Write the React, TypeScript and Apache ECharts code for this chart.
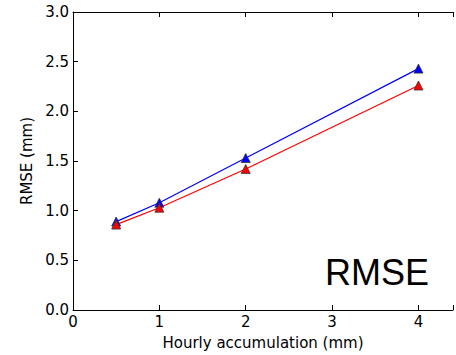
import React, { useEffect, useRef } from "react";
import * as echarts from "echarts";

const accumulations = [0.5, 1, 2, 4];
const rmseBlue = [0.89, 1.08, 1.53, 2.43];
const rmseRed = [0.86, 1.03, 1.42, 2.26];
const xTicks = [0, 1, 2, 3, 4];
const yTicks = ["0.0", "0.5", "1.0", "1.5", "2.0", "2.5", "3.0"];

export default function App() {
  const ref = useRef<HTMLDivElement>(null);
  useEffect(() => {
    const chart = echarts.init(ref.current!, null, { renderer: "svg" });
    const font = "DejaVu Sans";
    const tri = "path://M0,-10 L8.66,5 L-8.66,5 Z";
    const mk = (name: string, ys: number[], color: string) => ({
      name,
      type: "line",
      data: accumulations.map((x, i) => [x, ys[i]]),
      symbol: tri,
      symbolSize: 9,
      lineStyle: { color, width: 1.2 },
      itemStyle: { color, borderColor: "#333", borderWidth: 0.8 },
      z: 3,
    });
    chart.setOption({
      animation: false,
      backgroundColor: "#fff",
      textStyle: { fontFamily: font },
      grid: { left: 73, top: 12, width: 383, height: 302, containLabel: false },
      xAxis: [
        {
          type: "value",
          min: 0,
          max: 4.4,
          interval: 1,
          position: "bottom",
          name: "Hourly accumulation (mm)",
          nameLocation: "middle",
          nameGap: 25,
          nameTextStyle: { fontFamily: font, fontSize: 15, color: "#000" },
          axisLine: { show: true, onZero: false, lineStyle: { color: "#000", width: 1 } },
          axisTick: { show: true, inside: true, length: 5, lineStyle: { color: "#000" } },
          axisLabel: {
            color: "#000",
            fontFamily: font,
            fontSize: 15,
            margin: 4,
            formatter: (v: number) => (xTicks.includes(v) ? String(v) : ""),
          },
          splitLine: { show: false },
        },
        {
          type: "value",
          min: 0,
          max: 4.4,
          interval: 1,
          position: "top",
          axisLine: { show: true, onZero: false, lineStyle: { color: "#000", width: 1 } },
          axisTick: { show: true, inside: true, length: 5, lineStyle: { color: "#000" } },
          axisLabel: { show: false },
          splitLine: { show: false },
        },
      ],
      yAxis: {
        type: "value",
        min: 0,
        max: 3,
        interval: 0.5,
        name: "RMSE (mm)",
        nameLocation: "middle",
        nameGap: 34,
        nameTextStyle: { fontFamily: font, fontSize: 15, color: "#000" },
        axisLine: { show: true, onZero: false, lineStyle: { color: "#000", width: 1 } },
        axisTick: { show: true, inside: true, length: 5, lineStyle: { color: "#000" } },
        axisLabel: {
          color: "#000",
          fontFamily: font,
          fontSize: 15,
          margin: 4,
          formatter: (v: number) => yTicks[Math.round(v * 2)] ?? "",
        },
        splitLine: { show: false },
      },
      series: [mk("blue", rmseBlue, "#0000ff"), mk("red", rmseRed, "#ff0000")],
      graphic: [
        {
          type: "text",
          left: 325,
          top: 254,
          style: { text: "RMSE", fontFamily: "Liberation Sans", fontSize: 36, fill: "#000" },
        },
      ],
    });
    return () => chart.dispose();
  }, []);
  return (
    <div
      ref={ref}
      style={{ position: "fixed", left: 0, top: 0, width: 456, height: 355, background: "#fff" }}
    />
  );
}
